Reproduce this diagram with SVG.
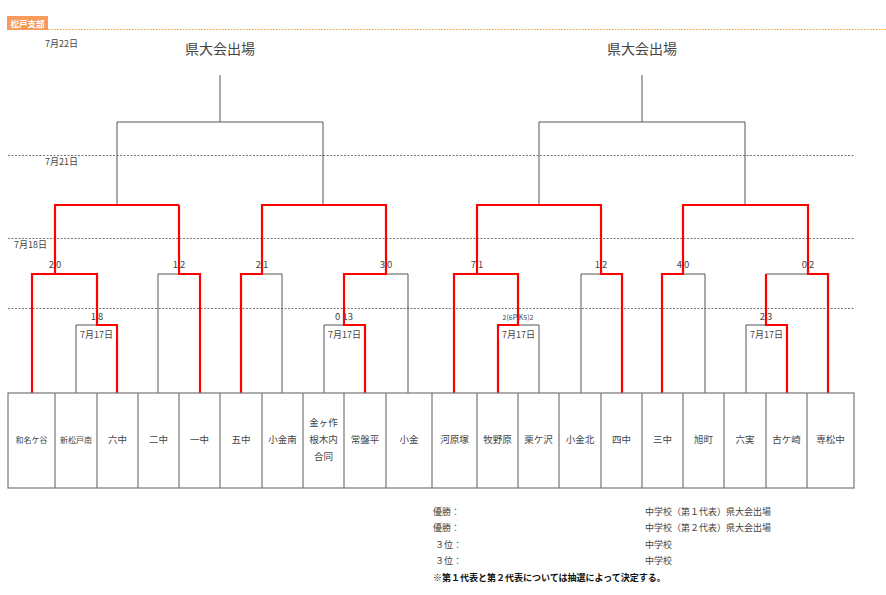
<svg xmlns="http://www.w3.org/2000/svg" width="886" height="595" viewBox="0 0 886 595">
<style>
text{font-family:"Noto Sans CJK JP","Liberation Sans",sans-serif;fill:#444}
.s{font-size:9px}.sc{font-size:9.5px;text-anchor:middle}.nm{font-size:9.5px;text-anchor:middle}
.b{fill:none;stroke:#555;stroke-width:1}
.r{fill:none;stroke:#f00;stroke-width:2.2}
.d{stroke:#777;stroke-width:1;stroke-dasharray:2,1.5}
.box{fill:#fff;stroke:#777;stroke-width:1.2}
</style>
<rect width="886" height="595" fill="#fff"/>
<rect x="7" y="16" width="41" height="14" fill="#f79a5a"/>
<text x="27.5" y="26.5" style="font-size:8.5px;fill:#fff;font-weight:bold;text-anchor:middle">松戸支部</text>
<line x1="48" y1="29.5" x2="886" y2="29.5" stroke="#e8a030" stroke-dasharray="1.5,1.5"/>
<g id="grid">
<line class="d" x1="8" y1="155.5" x2="854" y2="155.5"/>
<line class="d" x1="8" y1="238.5" x2="854" y2="238.5"/>
<line class="d" x1="8" y1="308.5" x2="854" y2="308.5"/>
<text class="s" x="45" y="47">7月22日</text>
<text class="s" x="45" y="165">7月21日</text>
<text class="s" x="14" y="248">7月18日</text>
<text x="220" y="54" style="font-size:14px;text-anchor:middle">県大会出場</text>
<text x="642" y="54" style="font-size:14px;text-anchor:middle">県大会出場</text>
</g>
<g id="connectors">
<path class="b" d="M220 75V122M117 205V122H323V205M642 75V122M539 205V122H745V205"/>
<path class="b" d="M76 393V325H97M179 274H158V393M262 274H282V393M324 393V325H344M386 274H408V393M498 325H539V393M601 274H581V393M683 274H705V393M746 393V325H766M766 274H808"/>
<path class="r" d="M32 393V274H97V325H117V393M55 274V205H179M179 205V274H200V393M241 393V274H262V205H386V274H344V325H365V393"/>
<path class="r" d="M454 393V274H518V325H498V393M477 274V205H601V274H622V393M662 393V274H683V205H808V274H828V393M766 274V325H787V393"/>
<rect x="77" y="328" width="39" height="12" fill="#fff"/><text class="s" x="96.5" y="338" text-anchor="middle">7月17日</text>
<rect x="325" y="328" width="38" height="12" fill="#fff"/><text class="s" x="344.5" y="338" text-anchor="middle">7月17日</text>
<rect x="499" y="328" width="38" height="12" fill="#fff"/><text class="s" x="518.5" y="338" text-anchor="middle">7月17日</text>
<rect x="747" y="328" width="38" height="12" fill="#fff"/><text class="s" x="766.5" y="338" text-anchor="middle">7月17日</text>
<text class="sc" x="55" y="268">2 0</text><text class="sc" x="179" y="268">1 2</text>
<text class="sc" x="262" y="268">2 1</text><text class="sc" x="386" y="268">3 0</text>
<text class="sc" x="477" y="268">7 1</text><text class="sc" x="601" y="268">1 2</text>
<text class="sc" x="683" y="268">4 0</text><text class="sc" x="808" y="268">0 2</text>
<text class="sc" x="97" y="320">1 8</text><text class="sc" x="344" y="320">0 13</text>
<text x="518" y="320" style="font-size:7px;text-anchor:middle">2(6P  K5)2</text><text class="sc" x="766" y="320">2 3</text>
</g>
<g id="teams">
<rect class="box" x="8" y="393" width="846" height="95"/>
<path stroke="#777" stroke-width="1.2" d="M55 393V488M97 393V488M138 393V488M179 393V488M220 393V488M262 393V488M303 393V488M344 393V488M386 393V488M432 393V488M477 393V488M518 393V488M559 393V488M601 393V488M642 393V488M683 393V488M724 393V488M766 393V488M807 393V488"/>
<text class="nm" x="31.5" y="443" style="font-size:8px">和名ケ谷</text>
<text class="nm" x="76" y="443" style="font-size:8px">新松戸南</text>
<text class="nm" x="117.5" y="443">六中</text>
<text class="nm" x="158.5" y="443">二中</text>
<text class="nm" x="199.5" y="443">一中</text>
<text class="nm" x="241" y="443">五中</text>
<text class="nm" x="282.5" y="443">小金南</text>
<text class="nm" x="323.5" y="426">金ヶ作</text>
<text class="nm" x="323.5" y="443">根木内</text>
<text class="nm" x="323.5" y="460">合同</text>
<text class="nm" x="365" y="443">常盤平</text>
<text class="nm" x="409" y="443">小金</text>
<text class="nm" x="454.5" y="443">河原塚</text>
<text class="nm" x="497.5" y="443">牧野原</text>
<text class="nm" x="538.5" y="443">栗ケ沢</text>
<text class="nm" x="580" y="443">小金北</text>
<text class="nm" x="621.5" y="443">四中</text>
<text class="nm" x="662.5" y="443">三中</text>
<text class="nm" x="703.5" y="443">旭町</text>
<text class="nm" x="745" y="443">六実</text>
<text class="nm" x="786.5" y="443">古ケ崎</text>
<text class="nm" x="830.5" y="443">専松中</text>
</g>
<g id="results" style="font-size:9.5px">
<text x="433" y="515" class="s">優勝：</text><text x="645" y="515" class="s">中学校（第１代表）県大会出場</text>
<text x="433" y="531" class="s">優勝：</text><text x="645" y="531" class="s">中学校（第２代表）県大会出場</text>
<text x="435" y="548" class="s">３位：</text><text x="645" y="548" class="s">中学校</text>
<text x="435" y="564" class="s">３位：</text><text x="645" y="564" class="s">中学校</text>
<text x="433" y="581" class="s" style="font-weight:bold;fill:#111">※第１代表と第２代表については抽選によって決定する。</text>
</g>
</svg>
